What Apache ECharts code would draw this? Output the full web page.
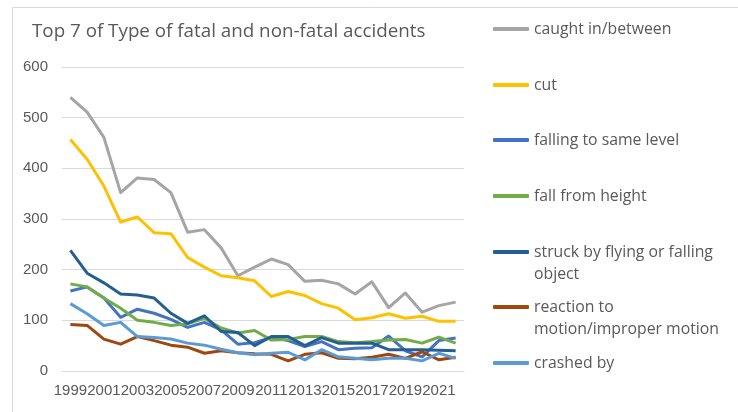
<!DOCTYPE html>
<html>
<head>
<meta charset="utf-8">
<script src="https://cdn.jsdelivr.net/npm/echarts@6/dist/echarts.min.js"></script>
<style>html,body{margin:0;padding:0;background:#fff}#c{width:738px;height:412px}</style>
</head>
<body>
<div id="c"></div>
<script>
var years = ['1999','2000','2001','2002','2003','2004','2005','2006','2007','2008','2009','2010','2011','2012','2013','2014','2015','2016','2017','2018','2019','2020','2021','2022'];
var seriesNames = ['caught in/between','cut','falling to same level','fall from height','struck by flying or falling object','reaction to motion/improper motion','crashed by'];
var caughtIn = [540,511,461,352,381,378,352,274,279,243,188,205,221,210,177,179,172,152,176,125,154,116,129,136];
var cut = [457,418,365,294,304,273,271,224,205,188,184,178,147,157,149,133,124,101,105,113,104,108,98,98];
var fallingSameLevel = [158,166,144,106,122,114,102,86,96,81,53,56,66,60,48,58,42,45,46,69,40,28,60,65];
var fallFromHeight = [172,166,144,124,100,96,90,93,104,85,75,80,61,62,68,68,58,56,58,61,62,55,67,55];
var struckBy = [238,193,174,152,150,144,114,94,109,78,76,50,68,68,50,66,55,55,55,42,42,42,41,40];
var reaction = [92,90,63,53,68,60,51,47,35,40,36,34,33,20,33,36,25,24,27,33,25,38,22,27];
var crashedBy = [133,113,90,96,68,66,63,55,51,43,36,32,35,37,22,42,28,25,22,25,25,20,35,25];
var yTicks = [0,100,200,300,400,500,600];

var allData = [caughtIn, cut, fallingSameLevel, fallFromHeight, struckBy, reaction, crashedBy];
var colors = ['#A5A5A5','#FFC000','#4472C4','#70AD47','#255E91','#9E480E','#5B9BD5'];
var firstLines = ['caught in/between','cut','falling to same level','fall from height','struck by flying or falling','reaction to','crashed by'];
var secondLines = ['','','','','object','motion/improper motion',''];
var legendCenters = [29,85,140,196,252,307,363];
var FONT = 'Liberation Sans';
var LFONT = 'Open Sans';

var legends = [], graphics = [];
graphics.push({type:'rect', left:10, top:5, shape:{width:900, height:600}, style:{fill:'none', stroke:'#D9D9D9', lineWidth:1}, silent:true, z:-1});
seriesNames.forEach(function(n, i){
  legends.push({
    data:[n], left:493, top:legendCenters[i]-10, orient:'vertical',
    icon:'roundRect', itemWidth:36, itemHeight:4, padding:0,
    formatter:(function(t){return function(){return t;};})(firstLines[i]),
    textStyle:{fontFamily:LFONT, fontSize:15.8, color:'#595959', lineHeight:20},
    selectedMode:false
  });
  if (secondLines[i]) {
    graphics.push({type:'text', left:534, top:legendCenters[i]+22-10,
      style:{text:secondLines[i], fontFamily:LFONT, fontSize:15.8, fill:'#595959', lineHeight:20}});
  }
});

var chart = echarts.init(document.getElementById('c'));
chart.setOption({
  animation:false,
  title:{text:'Top 7 of Type of fatal and non-fatal accidents', left:32, top:22, padding:0,
    textStyle:{fontFamily:LFONT, fontSize:18.8, fontWeight:'normal', color:'#595959'}},
  legend:legends,
  graphic:graphics,
  grid:{left:62, right:274, top:67, bottom:41},
  xAxis:{type:'category', data:years, boundaryGap:true,
    axisLine:{show:true, lineStyle:{color:'#D9D9D9'}}, axisTick:{show:false},
    axisLabel:{interval:1, margin:12, fontFamily:FONT, fontSize:15, color:'#595959'}},
  yAxis:{type:'value', min:yTicks[0], max:yTicks[yTicks.length-1], interval:100,
    axisLine:{show:false}, axisTick:{show:false},
    splitLine:{lineStyle:{color:'#D9D9D9', width:1}},
    axisLabel:{margin:14, fontFamily:FONT, fontSize:15, color:'#595959'}},
  series:seriesNames.map(function(n,i){
    return {name:n, type:'line', data:allData[i], symbol:'none', color:colors[i],
      lineStyle:{width:3, color:colors[i], join:'round'}, itemStyle:{color:colors[i]}};
  })
});
</script>
</body>
</html>
